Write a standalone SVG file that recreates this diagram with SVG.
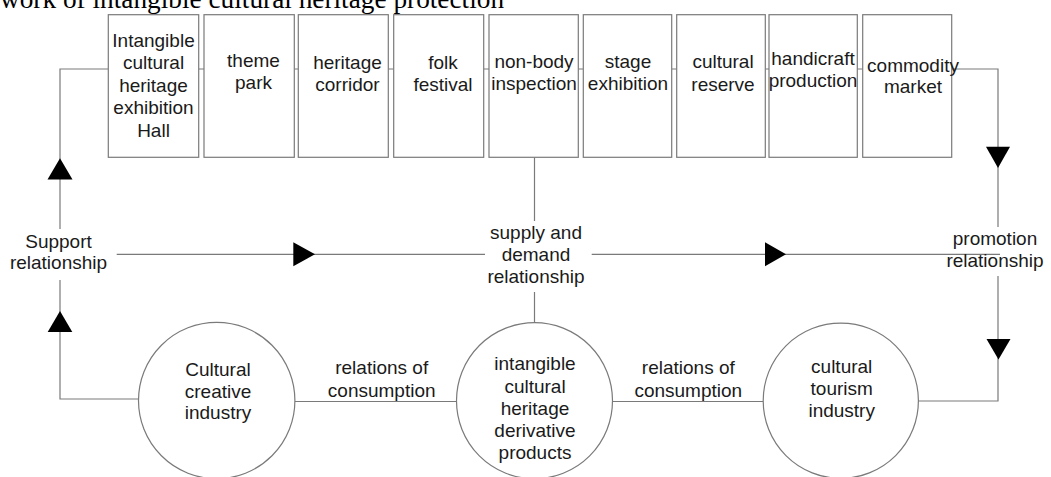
<svg xmlns="http://www.w3.org/2000/svg" width="1051" height="477" viewBox="0 0 1051 477">
  <style>
    .box { fill: #ffffff; stroke: #7a7a7a; stroke-width: 1.2; }
    .ring { fill: #ffffff; stroke: #7a7a7a; stroke-width: 1.2; }
    .wire { fill: none; stroke: #7a7a7a; stroke-width: 1.2; }
    .head { fill: #000000; stroke: none; }
    .lbl { font-family: "Liberation Sans", Arial, sans-serif; font-size: 19px; fill: #1a1a1a; text-anchor: middle; }
    .cap { font-family: "Liberation Serif", "Times New Roman", serif; font-size: 27.3px; fill: #000000; }
  </style>
  <rect width="1051" height="477" fill="#ffffff"/>

  <!-- caption, clipped at the top edge -->
  <text class="cap" x="0" y="7.5">work of intangible cultural heritage protection</text>

  <!-- connectors -->
  <g id="connectors">
    <!-- short links between the top boxes -->
    <path class="wire" d="M198.7 69 H204 M294.3 69 H298.3 M388.3 69 H393.7 M483.7 69 H489 M578.3 69 H583.3 M671.7 69 H676.7 M765.3 69 H769 M857.3 69 H862.7"/>
    <!-- support loop on the left -->
    <path class="wire" d="M108.3 69 H60 V229"/>
    <path class="wire" d="M60 280 V399 H138.5"/>
    <!-- promotion loop on the right -->
    <path class="wire" d="M951.7 69 H998 V227"/>
    <path class="wire" d="M998 276 V401 H918.5"/>
    <!-- supply and demand axis -->
    <path class="wire" d="M534.5 157.3 V221"/>
    <path class="wire" d="M534.5 292 V322.5"/>
    <path class="wire" d="M116.7 254.3 H485"/>
    <path class="wire" d="M591.7 254.3 H1000"/>
    <!-- consumption links between circles -->
    <path class="wire" d="M295 401.5 H456.5"/>
    <path class="wire" d="M612.5 401.5 H763"/>
    <!-- arrowheads -->
    <polygon class="head" points="60,158.3 47.5,179.5 72.5,179.5"/>
    <polygon class="head" points="60,311 47.7,332 72.3,332"/>
    <polygon class="head" points="986,146.7 1010,146.7 998,168"/>
    <polygon class="head" points="986.5,339 1010.5,339 998.5,359.5"/>
    <polygon class="head" points="293.3,242.3 315,254.3 293.3,266.3"/>
    <polygon class="head" points="765,242.3 786,254.3 765,266.3"/>
    <!-- relationship labels -->
    <text class="lbl" x="58.5"><tspan x="58.5" y="248.3">Support</tspan><tspan x="58.5" y="269.3">relationship</tspan></text>
    <text class="lbl" x="536"><tspan x="536" y="239">supply and</tspan><tspan x="536" y="261">demand</tspan><tspan x="536" y="283.3">relationship</tspan></text>
    <text class="lbl" x="995"><tspan x="995" y="245">promotion</tspan><tspan x="995" y="266.7">relationship</tspan></text>
    <text class="lbl" x="381.7"><tspan x="381.7" y="374">relations of</tspan><tspan x="381.7" y="396.7">consumption</tspan></text>
    <text class="lbl" x="688.3"><tspan x="688.3" y="374.3">relations of</tspan><tspan x="688.3" y="396.7">consumption</tspan></text>
  </g>

  <!-- top row of carriers -->
  <g id="exhibition-hall">
    <rect class="box" x="108.3" y="14.7" width="90.4" height="142.6"/>
    <text class="lbl"><tspan x="153.5" y="46.7">Intangible</tspan><tspan x="153.5" y="69.3">cultural</tspan><tspan x="153.5" y="91.7">heritage</tspan><tspan x="153.5" y="114">exhibition</tspan><tspan x="153.5" y="136.7">Hall</tspan></text>
  </g>
  <g id="theme-park">
    <rect class="box" x="204" y="14.7" width="90.3" height="142.6"/>
    <text class="lbl"><tspan x="253.5" y="67">theme</tspan><tspan x="253.5" y="89">park</tspan></text>
  </g>
  <g id="heritage-corridor">
    <rect class="box" x="298.3" y="14.7" width="90" height="142.6"/>
    <text class="lbl"><tspan x="347.5" y="68.5">heritage</tspan><tspan x="347.5" y="90.5">corridor</tspan></text>
  </g>
  <g id="folk-festival">
    <rect class="box" x="393.7" y="14.7" width="90" height="142.6"/>
    <text class="lbl"><tspan x="443" y="68.5">folk</tspan><tspan x="443" y="90.5">festival</tspan></text>
  </g>
  <g id="non-body-inspection">
    <rect class="box" x="489" y="14.7" width="89.3" height="142.6"/>
    <text class="lbl"><tspan x="534" y="68.3">non-body</tspan><tspan x="534" y="90.3">inspection</tspan></text>
  </g>
  <g id="stage-exhibition">
    <rect class="box" x="583.3" y="14.7" width="88.4" height="142.6"/>
    <text class="lbl"><tspan x="628" y="68.3">stage</tspan><tspan x="628" y="90.3">exhibition</tspan></text>
  </g>
  <g id="cultural-reserve">
    <rect class="box" x="676.7" y="14.7" width="88.6" height="142.6"/>
    <text class="lbl"><tspan x="723" y="68.3">cultural</tspan><tspan x="723" y="90.5">reserve</tspan></text>
  </g>
  <g id="handicraft-production">
    <rect class="box" x="769" y="14.7" width="88.3" height="142.6"/>
    <text class="lbl"><tspan x="813" y="65.3">handicraft</tspan><tspan x="813" y="87.3">production</tspan></text>
  </g>
  <g id="commodity-market">
    <rect class="box" x="862.7" y="14.7" width="89" height="142.6"/>
    <text class="lbl"><tspan x="913" y="71.7">commodity</tspan><tspan x="913" y="93.3">market</tspan></text>
  </g>

  <!-- industries along the bottom -->
  <g id="creative-industry">
    <circle class="ring" cx="216.7" cy="400.5" r="78.2"/>
    <text class="lbl"><tspan x="218" y="376">Cultural</tspan><tspan x="218" y="397.7">creative</tspan><tspan x="218" y="419">industry</tspan></text>
  </g>
  <g id="derivative-products">
    <circle class="ring" cx="534.5" cy="400.7" r="78"/>
    <text class="lbl"><tspan x="535" y="370">intangible</tspan><tspan x="535" y="392.5">cultural</tspan><tspan x="535" y="415">heritage</tspan><tspan x="535" y="437.3">derivative</tspan><tspan x="535" y="459.3">products</tspan></text>
  </g>
  <g id="tourism-industry">
    <circle class="ring" cx="840.8" cy="400.7" r="77.6"/>
    <text class="lbl"><tspan x="841.7" y="372.7">cultural</tspan><tspan x="841.7" y="395">tourism</tspan><tspan x="841.7" y="416.7">industry</tspan></text>
  </g>
</svg>
